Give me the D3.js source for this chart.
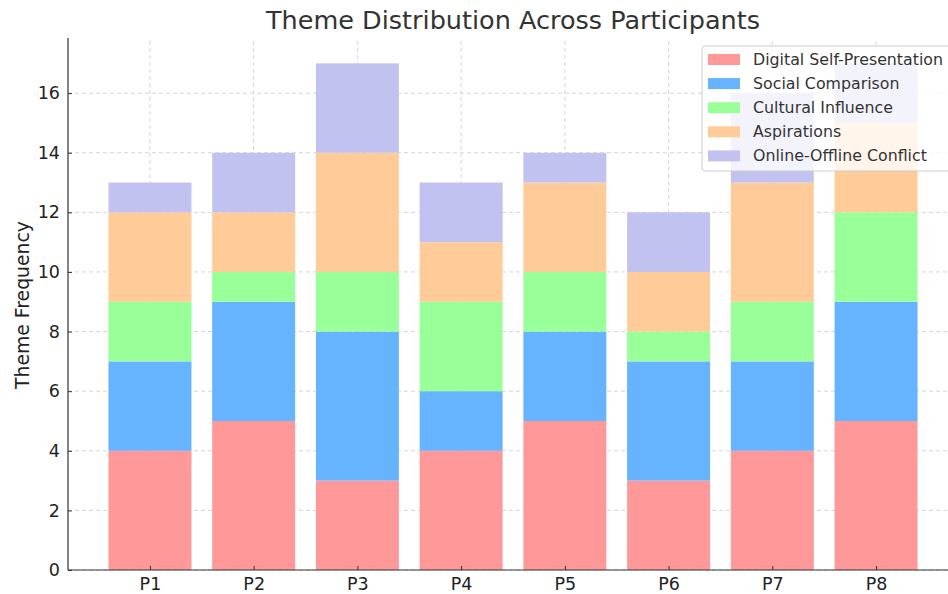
<!DOCTYPE html>
<html>
<head>
<meta charset="utf-8">
<script src="https://cdn.jsdelivr.net/npm/d3@7"></script>
<style>
  body { margin: 0; background: #fff; }
  svg { display: block; font-family: "DejaVu Sans", sans-serif; }
</style>
</head>
<body>
<svg width="948" height="594"></svg>
<script>
// data
const participants = ["P1", "P2", "P3", "P4", "P5", "P6", "P7", "P8"];
const themes = ["Digital Self-Presentation", "Social Comparison", "Cultural Influence", "Aspirations", "Online-Offline Conflict"];
const digitalSelf = [4, 5, 3, 4, 5, 3, 4, 5];
const socialComparison = [3, 4, 5, 2, 3, 4, 3, 4];
const culturalInfluence = [2, 1, 2, 3, 2, 1, 2, 3];
const aspirations = [3, 2, 4, 2, 3, 2, 4, 3];
const onlineOffline = [1, 2, 3, 2, 1, 2, 3, 2];
const yTicks = [0, 2, 4, 6, 8, 10, 12, 14, 16];
const colors = ["#ff9999", "#66b3ff", "#99ff99", "#ffcc99", "#c2c2f0"];

const seriesValues = [digitalSelf, socialComparison, culturalInfluence, aspirations, onlineOffline];
const table = participants.map((p, i) => {
  const row = { participant: p };
  themes.forEach((t, k) => { row[t] = seriesValues[k][i]; });
  return row;
});
const stacked = d3.stack().keys(themes)(table);

const margin = { left: 68, right: -10, top: 38, bottom: 24 };
const width = 948, height = 594;
const svg = d3.select("svg");

// x range mimics matplotlib xlim [-0.79, 7.79]
const x = d3.scaleLinear().domain([-0.79, 7.79]).range([margin.left, width - margin.right]);
const y = d3.scaleLinear().domain([0, 17.85]).range([height - margin.bottom, margin.top]);
const barW = x(0.8) - x(0);

// grid
const grid = svg.append("g");
grid.selectAll(".gy").data(yTicks).join("line")
  .attr("x1", margin.left).attr("x2", width)
  .attr("y1", d => y(d)).attr("y2", d => y(d))
  .attr("stroke", "#cccccc").attr("stroke-dasharray", "4,3").attr("stroke-width", 0.8);
grid.selectAll(".gx").data(participants).join("line")
  .attr("x1", (d, i) => x(i)).attr("x2", (d, i) => x(i))
  .attr("y1", y(0)).attr("y2", margin.top)
  .attr("stroke", "#cccccc").attr("stroke-dasharray", "4,3").attr("stroke-width", 0.8);

// bars
svg.append("g").selectAll("g").data(stacked).join("g")
  .attr("fill", (d, k) => colors[k])
  .selectAll("rect").data(d => d).join("rect")
  .attr("x", (d, i) => x(i) - barW / 2)
  .attr("width", barW)
  .attr("y", d => y(d[1]))
  .attr("height", d => y(d[0]) - y(d[1]));

// axes (ticks point inward)
const xAxis = d3.axisBottom(x).tickValues(d3.range(participants.length))
  .tickFormat(i => participants[i]).tickSizeInner(-4).tickSizeOuter(0).tickPadding(8);
const gx = svg.append("g").attr("transform", `translate(0,${y(0)})`).call(xAxis);
gx.select(".domain").attr("d", `M${margin.left},0H${width}`);

const yAxis = d3.axisLeft(y).tickValues(yTicks).tickSizeInner(-4).tickSizeOuter(0).tickPadding(8);
const gy = svg.append("g").attr("transform", `translate(${margin.left},0)`).call(yAxis);
gy.select(".domain").attr("d", `M0,${y(0)}V${margin.top}`);

[gx, gy].forEach(g => {
  g.select(".domain").attr("stroke", "#333").attr("stroke-width", 1.2);
  g.selectAll(".tick line").attr("stroke", "#333");
  g.selectAll(".tick text").style("font-size", "17.5px").attr("fill", "#222")
    .style("font-family", "DejaVu Sans, sans-serif");
});

// title & y label
svg.append("text")
  .attr("x", (margin.left + 958) / 2).attr("y", 29)
  .attr("text-anchor", "middle").style("font-size", "25.5px").attr("fill", "#333")
  .text("Theme Distribution Across Participants");

svg.append("text")
  .attr("transform", `translate(29,305) rotate(-90)`)
  .attr("text-anchor", "middle").style("font-size", "18.8px").attr("fill", "#222")
  .text("Theme Frequency");

// legend
const legend = svg.append("g").attr("transform", "translate(702,46)");
legend.append("rect").attr("x", 0).attr("y", 0).attr("width", 260).attr("height", 125)
  .attr("rx", 3).attr("fill", "white").attr("fill-opacity", 0.8)
  .attr("stroke", "#cccccc").attr("stroke-width", 1);
const items = legend.selectAll(".item").data(themes).join("g")
  .attr("transform", (d, k) => `translate(6,${13.5 + k * 24.1})`);
items.append("rect").attr("x", 0).attr("y", -5.5).attr("width", 32).attr("height", 11)
  .attr("fill", (d, k) => colors[k]);
items.append("text").attr("x", 45).attr("y", 5.5)
  .style("font-size", "15.8px").attr("fill", "#333").text(d => d);
</script>
</body>
</html>
